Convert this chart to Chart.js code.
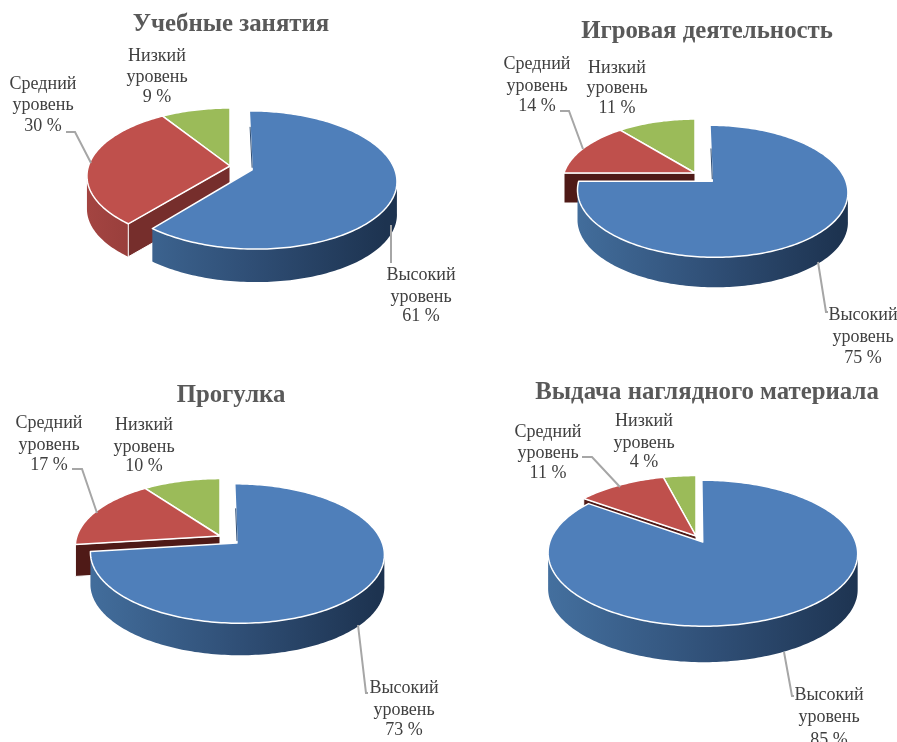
<!DOCTYPE html>
<html lang="ru">
<head>
<meta charset="utf-8">
<title>Уровни</title>
<style>
  html, body { margin: 0; padding: 0; background: #fff; }
  #page { position: relative; width: 897px; height: 742px; overflow: hidden; }
  canvas { position: absolute; }
</style>
<script src="https://cdn.jsdelivr.net/npm/chart.js@4/dist/chart.umd.min.js"></script>
</head>
<body>
<div id="page"></div>
<script>
const categories = ["Высокий уровень", "Средний уровень", "Низкий уровень"];
const chartTitles = ["Учебные занятия", "Игровая деятельность", "Прогулка", "Выдача наглядного материала"];
const lessonValues = [61, 30, 9];
const playValues = [75, 14, 11];
const walkValues = [73, 17, 10];
const materialValues = [85, 11, 4];
const sliceColors = ["#4f7fba", "#bf504c", "#9bbb59"];
const labelFont = '18px "Liberation Serif", serif';

// left/width keep each title centred over its pie, view is the tilted disc
const panels = [
  {
    title: chartTitles[0], values: lessonValues,
    box: { left: 0, top: 0, width: 462, height: 375 }, titleTop: 10,
    view: { cx: 230, cy: 166, rx: 141.5, ry: 66.5, k: 0.147, explode: 0.165, depth: 33, seam: 0.7 },
    cutColor: "#762e2c",
    labels: [{ x: 421, y: [275, 297, 316] }, { x: 43, y: [84, 105, 126] }, { x: 157, y: [56, 77, 97] }],
    leaders: [[[391, 225], [391, 263]], [[66, 132], [75, 132], [91, 163]]],
  },
  {
    title: chartTitles[1], values: playValues,
    box: { left: 497, top: 0, width: 420, height: 375 }, titleTop: 17,
    view: { cx: 695, cy: 173, rx: 131, ry: 62, k: 0.15, explode: 0.183, depth: 30, seam: 0.55 },
    cutColor: "#4f1a17",
    labels: [{ x: 863, y: [315, 337, 358] }, { x: 537, y: [64, 86, 106] }, { x: 617, y: [68, 88, 108] }],
    leaders: [[[818, 262], [826, 312], [828, 312]], [[560, 111], [569, 111], [583, 149]]],
  },
  {
    title: chartTitles[2], values: walkValues,
    box: { left: 0, top: 375, width: 462, height: 367 }, titleTop: 6,
    view: { cx: 220, cy: 536, rx: 143, ry: 66, k: 0.15, explode: 0.156, depth: 32, seam: 0.55 },
    cutColor: "#4f1a17",
    labels: [{ x: 404, y: [688, 710, 730] }, { x: 49, y: [423, 445, 465] }, { x: 144, y: [425, 447, 466] }],
    leaders: [[[358, 625], [366, 693], [368, 693]], [[72, 469], [82, 469], [97, 513]]],
  },
  {
    title: chartTitles[3], values: materialValues,
    box: { left: 497, top: 375, width: 420, height: 367 }, titleTop: 3,
    view: { cx: 696, cy: 536, rx: 151, ry: 69.5, k: 0.15, explode: 0.097, depth: 36, seam: 0 },
    cutColor: "#4f1a17",
    labels: [{ x: 829, y: [695, 717, 740] }, { x: 548, y: [432, 453, 473] }, { x: 644, y: [421, 443, 462] }],
    leaders: [[[784, 652], [792, 696], [794, 696]], [[582, 457], [592, 457], [620, 487]]],
  },
];

function project(view, u, v) {
  const d = 1 - view.k * v;
  return [view.cx + (view.rx * u) / d, view.cy + (view.ry * v) / d];
}

function rimPoints(view, ox, oy, from, to) {
  const steps = Math.max(2, Math.ceil(Math.abs(to - from) / 0.02));
  const points = [];
  for (let i = 0; i <= steps; i++) {
    const a = from + ((to - from) * i) / steps;
    points.push(project(view, ox + Math.cos(a), oy + Math.sin(a)));
  }
  return points;
}

function tracePolygon(ctx, points) {
  ctx.beginPath();
  points.forEach((p, i) => (i ? ctx.lineTo(p[0], p[1]) : ctx.moveTo(p[0], p[1])));
  ctx.closePath();
}

function drawRimWall(ctx, view, ox, oy, start, end, index) {
  // only the front part of the rim can be seen
  const frontFrom = Math.asin(view.k);
  const from = Math.max(start, frontFrom);
  const to = Math.min(end, Math.PI - frontFrom);
  if (to <= from) return;

  const top = rimPoints(view, ox, oy, from, to);
  const bottom = top.map((p) => [p[0], p[1] + view.depth]).reverse();
  const gradient = ctx.createLinearGradient(view.cx - view.rx, 0, view.cx + view.rx * 1.1, 0);
  if (index === 0) {
    gradient.addColorStop(0, "#44709f");
    gradient.addColorStop(0.55, "#2f4e75");
    gradient.addColorStop(1, "#1d3350");
  } else {
    gradient.addColorStop(0, "#a34441");
    gradient.addColorStop(0.5, "#7f312f");
    gradient.addColorStop(1, "#7f312f");
  }
  tracePolygon(ctx, top.concat(bottom));
  ctx.fillStyle = gradient;
  ctx.fill();
}

const pie3dPlugin = {
  id: "pie3d",
  beforeDatasetDraw(chart) {
    const panel = chart.options.plugins.pie3d.panel;
    const view = panel.view;
    const arcs = chart.getDatasetMeta(0).data;
    const ctx = chart.ctx;

    ctx.save();
    ctx.translate(-panel.box.left, -panel.box.top);

    [2, 1, 0].forEach((index) => {
      const arc = arcs[index];
      const { startAngle, endAngle } = arc.getProps(["startAngle", "endAngle"], true);
      const mid = (startAngle + endAngle) / 2;
      const shift = index === 0 ? view.explode : 0;
      const ox = Math.cos(mid) * shift;
      const oy = Math.sin(mid) * shift;
      const apex = project(view, ox, oy);

      drawRimWall(ctx, view, ox, oy, startAngle, endAngle, index);

      if (index === 1) {
        const tip = project(view, ox + Math.cos(startAngle), oy + Math.sin(startAngle));
        tracePolygon(ctx, [apex, tip, [tip[0], tip[1] + view.depth], [apex[0], apex[1] + view.depth]]);
        ctx.fillStyle = panel.cutColor;
        ctx.fill();
        ctx.strokeStyle = "#fff";
        ctx.lineWidth = 1;
        ctx.stroke();
      }

      tracePolygon(ctx, [apex].concat(rimPoints(view, ox, oy, startAngle, endAngle)));
      ctx.fillStyle = sliceColors[index];
      ctx.fill();
      ctx.strokeStyle = "#fff";
      ctx.lineWidth = 1.5;
      ctx.lineJoin = "round";
      ctx.stroke();

      // thin dark edge of the cut next to the gap
      if (index === 0 && view.seam > 0) {
        const edge = project(view, ox + view.seam * Math.cos(startAngle), oy + view.seam * Math.sin(startAngle));
        ctx.beginPath();
        ctx.moveTo(apex[0], apex[1] - 2);
        ctx.lineTo(edge[0], edge[1]);
        ctx.strokeStyle = "#2f4e75";
        ctx.lineWidth = 1;
        ctx.stroke();
      }
    });

    ctx.restore();
    return false;
  },
  afterDatasetsDraw(chart) {
    const panel = chart.options.plugins.pie3d.panel;
    const ctx = chart.ctx;

    ctx.save();
    ctx.translate(-panel.box.left, -panel.box.top);

    ctx.strokeStyle = "#a6a6a6";
    ctx.lineWidth = 2;
    panel.leaders.forEach((line) => {
      ctx.beginPath();
      line.forEach((p, i) => (i ? ctx.lineTo(p[0], p[1]) : ctx.moveTo(p[0], p[1])));
      ctx.stroke();
    });

    ctx.font = labelFont;
    ctx.fillStyle = "#404040";
    ctx.textAlign = "center";
    ctx.textBaseline = "middle";
    panel.labels.forEach((label, i) => {
      const words = categories[i].split(" ");
      const lines = [words[0], words[1], `${panel.values[i]} %`];
      lines.forEach((text, n) => ctx.fillText(text, label.x, label.y[n]));
    });

    ctx.restore();
  },
};

function renderPanel(panel) {
  const canvas = document.createElement("canvas");
  canvas.width = panel.box.width;
  canvas.height = panel.box.height;
  canvas.style.left = `${panel.box.left}px`;
  canvas.style.top = `${panel.box.top}px`;
  document.getElementById("page").appendChild(canvas);

  new Chart(canvas, {
    type: "pie",
    data: {
      labels: categories,
      datasets: [{ data: panel.values, backgroundColor: sliceColors }],
    },
    options: {
      responsive: false,
      animation: false,
      plugins: {
        legend: { display: false },
        tooltip: { enabled: false },
        title: {
          display: true,
          text: panel.title,
          color: "#595959",
          font: { family: '"Liberation Serif", serif', size: 24.8, weight: "bold" },
          padding: { top: panel.titleTop, bottom: 0 },
        },
        pie3d: { panel: panel },
      },
    },
    plugins: [pie3dPlugin],
  });
}

panels.forEach(renderPanel);
</script>
</body>
</html>
